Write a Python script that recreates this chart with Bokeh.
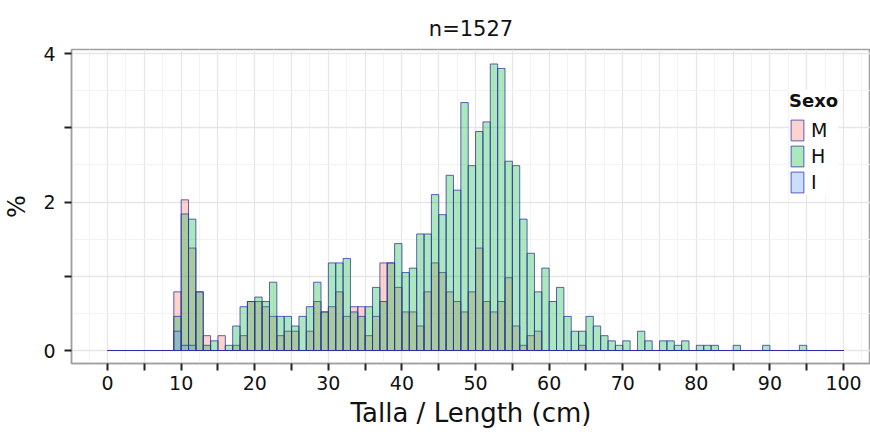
from bokeh.plotting import figure
from bokeh.models import (ColumnDataSource, FixedTicker, Legend, LegendItem, Range1d)
from bokeh.embed import file_html
from bokeh.resources import INLINE

# ---- data (percent of n=1527, 1 cm bins starting at bin_start) ----
bin_start = list(range(0, 100))

M = [0, 0, 0, 0, 0, 0, 0, 0, 0, 0.79,
     2.03, 1.38, 0.79, 0.20, 0, 0.20, 0, 0.07, 0.20, 0.66,
     0.66, 0.59, 0.46, 0.20, 0.26, 0.26, 0, 0.26, 0.66, 0.52,
     0.59, 0.79, 0.46, 0.59, 0.59, 0.20, 0.46, 1.18, 1.18, 0.85,
     0.52, 0.52, 0.33, 0.79, 1.18, 1.05, 0.79, 0.66, 0.52, 0.79,
     1.38, 0.66, 0.52, 0.66, 0.98, 0.33, 0.07, 0.20, 0.26, 0,
     0, 0, 0, 0, 0.07, 0, 0, 0, 0, 0,
     0, 0, 0, 0, 0, 0, 0, 0, 0, 0,
     0, 0, 0, 0, 0, 0, 0, 0, 0, 0,
     0, 0, 0, 0, 0, 0, 0, 0, 0, 0]

H = [0, 0, 0, 0, 0, 0, 0, 0, 0, 0.46,
     1.84, 1.77, 0.79, 0.07, 0.13, 0, 0.07, 0.33, 0.59, 0.66,
     0.72, 0.66, 0.92, 0.46, 0.46, 0.33, 0.46, 0.59, 0.92, 0.52,
     1.18, 1.18, 1.24, 0.52, 0.46, 0.59, 0.85, 0.66, 1.18, 1.44,
     1.05, 1.11, 1.57, 1.57, 2.10, 1.83, 2.36, 2.16, 3.34, 2.49,
     2.95, 3.08, 3.86, 3.80, 2.55, 2.49, 1.77, 1.31, 0.79, 1.11,
     0.66, 0.85, 0.46, 0.26, 0.26, 0.46, 0.33, 0.20, 0.13, 0.07,
     0.13, 0, 0.26, 0.13, 0, 0.13, 0.13, 0.07, 0.13, 0,
     0.07, 0.07, 0.07, 0, 0, 0.07, 0, 0, 0, 0.07,
     0, 0, 0, 0, 0.07, 0, 0, 0, 0, 0]

I = [0, 0, 0, 0, 0, 0, 0, 0, 0, 0.26,
     0.07, 0.07, 0, 0, 0, 0, 0, 0, 0, 0,
     0, 0, 0, 0, 0, 0, 0, 0, 0, 0,
     0, 0, 0, 0, 0, 0, 0, 0, 0, 0,
     0, 0, 0, 0, 0, 0, 0, 0, 0, 0,
     0, 0, 0, 0, 0, 0, 0, 0, 0, 0,
     0, 0, 0, 0, 0, 0, 0, 0, 0, 0,
     0, 0, 0, 0, 0, 0, 0, 0, 0, 0,
     0, 0, 0, 0, 0, 0, 0, 0, 0, 0,
     0, 0, 0, 0, 0, 0, 0, 0, 0, 0]

sexes = ["M", "H", "I"]
sex_values = [M, H, I]
sex_colors = ["#F8766D", "#00BA38", "#619CFF"]

x_ticks = list(range(0, 101, 5))
x_minor = [t + 2.5 for t in range(-5, 101, 5)]
y_ticks = [0, 1, 2, 3, 4]
y_minor = [0.5, 1.5, 2.5, 3.5]
x_labels = {t: (str(t) if t % 10 == 0 else "") for t in x_ticks}
y_labels = {0: "0", 1: "", 2: "2", 3: "", 4: "4"}

title_text = "n=1527"
x_title = "Talla / Length (cm)"
y_title = "%"
legend_title = "Sexo"

FONT = "DejaVu Sans"

p = figure(width=870, height=435, output_backend="svg", toolbar_location=None,
           x_range=Range1d(-4.9, 103.66), y_range=Range1d(-0.175, 4.055),
           min_border_left=70, min_border_right=0, min_border_top=49,
           min_border_bottom=72, title=title_text)

p.background_fill_color = "white"
p.border_fill_color = "white"
p.outline_line_color = "#a0a0a0"
p.outline_line_width = 1.5

p.title.align = "center"
p.title.text_font = FONT
p.title.text_font_style = "normal"
p.title.text_font_size = "21px"
p.title.text_color = "#111111"
p.title.standoff = 18
p.title.offset = 4

renderers = []
for name, vals, col in zip(sexes, sex_values, sex_colors):
    src = ColumnDataSource(dict(left=bin_start,
                                right=[b + 1 for b in bin_start],
                                top=vals,
                                bottom=[0] * len(vals)))
    r = p.quad(left="left", right="right", top="top", bottom="bottom", source=src,
               fill_color=col, fill_alpha=0.33,
               line_color="#2e2ea8", line_alpha=0.75, line_width=1)
    renderers.append(r)

xt = FixedTicker(ticks=x_ticks, minor_ticks=x_minor)
yt = FixedTicker(ticks=y_ticks, minor_ticks=y_minor)

for ax, tk, labels in ((p.xaxis[0], xt, x_labels), (p.yaxis[0], yt, y_labels)):
    ax.ticker = tk
    ax.major_label_overrides = labels
    ax.axis_line_color = "#a0a0a0"
    ax.axis_line_width = 1.5
    ax.major_tick_line_color = "#222222"
    ax.major_tick_line_width = 2
    ax.major_tick_out = 7
    ax.major_tick_in = 0
    ax.minor_tick_out = 0
    ax.minor_tick_in = 0
    ax.major_label_text_font = FONT
    ax.major_label_text_font_size = "19px"
    ax.major_label_text_color = "#111111"
    ax.axis_label_text_font = FONT
    ax.axis_label_text_font_style = "normal"
    ax.axis_label_text_color = "#111111"

p.xaxis.axis_label = x_title
p.xaxis.axis_label_text_font_size = "26px"
p.xaxis.major_label_standoff = 5
p.xaxis.axis_label_standoff = 5

p.yaxis.axis_label = y_title
p.yaxis.axis_label_text_font_size = "24px"
p.yaxis.major_label_standoff = 9
p.yaxis.axis_label_standoff = 9

p.xgrid.ticker = xt
p.ygrid.ticker = yt
for g in (p.xgrid[0], p.ygrid[0]):
    g.grid_line_color = "#e6e6e6"
    g.grid_line_width = 1.3
    g.minor_grid_line_color = "#f3f3f3"
    g.minor_grid_line_width = 1

legend = Legend(items=[LegendItem(label=n, renderers=[r]) for n, r in zip(sexes, renderers)],
                location=(718, 168), title=legend_title,
                title_text_font=FONT, title_text_font_style="bold",
                title_text_font_size="18px", title_text_color="#111111",
                title_standoff=6,
                label_text_font=FONT, label_text_font_size="19px",
                label_text_color="#111111",
                glyph_width=16, glyph_height=26, label_height=26,
                label_standoff=6, spacing=0, padding=12, margin=0,
                background_fill_color="white", background_fill_alpha=1,
                border_line_color=None)
p.add_layout(legend)

open("out.html", "w").write(file_html(p, INLINE))
